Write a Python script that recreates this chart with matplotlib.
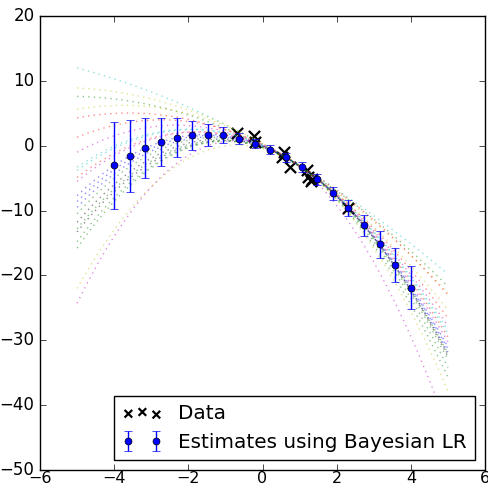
import numpy as np
import matplotlib
matplotlib.use('Agg')
import matplotlib.pyplot as plt
from matplotlib.legend_handler import HandlerPathCollection

plt.style.use('classic')

# observed data
data_x = [-0.70, -0.24, -0.20, 0.52, 0.57, 0.73, 1.21, 1.24, 1.30, 1.34, 2.31]
data_y = [2.0, 1.5, 0.5, -1.8, -0.9, -3.3, -3.8, -4.9, -5.4, -5.1, -9.6]

# predictive mean and std at test points
est_x = [-4.0, -3.579, -3.158, -2.737, -2.316, -1.895, -1.474, -1.053, -0.632, -0.211,
         0.211, 0.632, 1.053, 1.474, 1.895, 2.316, 2.737, 3.158, 3.579, 4.0]
est_y = [-3.05, -1.6, -0.4, 0.55, 1.2, 1.6, 1.7, 1.6, 1.1, 0.3,
         -0.6, -1.8, -3.3, -5.2, -7.3, -9.6, -12.3, -15.2, -18.4, -21.9]
est_err = [6.75, 5.6, 4.6, 3.7, 3.0, 2.2, 1.7, 1.25, 0.9, 0.7,
           0.7, 0.7, 0.8, 0.9, 1.0, 1.2, 1.6, 2.1, 2.65, 3.3]

# sampled quadratic curves: value at x=-5, x=1, x=5
samp_left = [12.0, 8.9, 7.6, 5.6, 4.3, 1.3, -1.0, -3.3, -3.8, -4.9, -5.5,
             -7.7, -8.6, -9.5, -10.5, -11.8, -12.8, -13.3, -14.8, -15.8, -22.0, -24.3]
samp_mid = [-3.1, -3.1, -3.2, -3.1, -3.0, -3.1, -3.2, -3.1, -3.1, -3.2, -3.2,
            -3.1, -3.1, -3.2, -3.1, -3.1, -3.2, -3.1, -3.2, -3.2, -3.2, -3.2]
samp_right = [-19.8, -22.7, -21.7, -25.3, -23.0, -26.6, -27.8, -28.5, -29.0, -29.5, -30.2,
              -31.0, -31.3, -31.8, -32.0, -32.2, -33.0, -32.5, -34.2, -35.7, -37.8, -43.6]
samp_colors = ['c', 'y', 'g', 'y', 'r', 'r', 'm', 'c', 'c', 'r', 'm',
               'b', 'b', 'b', 'g', 'k', 'g', 'k', 'g', 'g', 'y', 'm']

fig = plt.figure(figsize=(4.88, 4.88), dpi=100)
ax = fig.add_axes([40 / 488, 18 / 488, 445 / 488, 454 / 488])

xs = np.linspace(-5, 5, 100)
for l, m, r, col in zip(samp_left, samp_mid, samp_right, samp_colors):
    w = np.polyfit([-5, 1, 5], [l, m, r], 2)
    ax.plot(xs, np.polyval(w, xs), ':', color=col, alpha=0.45)

sc = ax.scatter(data_x, data_y, marker='x', c='k', s=65, linewidths=1.6, label='Data')
ax.errorbar(est_x, est_y, yerr=est_err, fmt='bo', ms=5, ecolor='b', label='Estimates using Bayesian LR')

ax.set_xlim(-6, 6)
ax.set_ylim(-50, 20)
ax.tick_params(axis='x', pad=1, labelsize=11.5)
ax.legend(loc='lower right', handler_map={sc: HandlerPathCollection(sizes=[30, 30, 30])})

fig.savefig('out.png', dpi=100)
